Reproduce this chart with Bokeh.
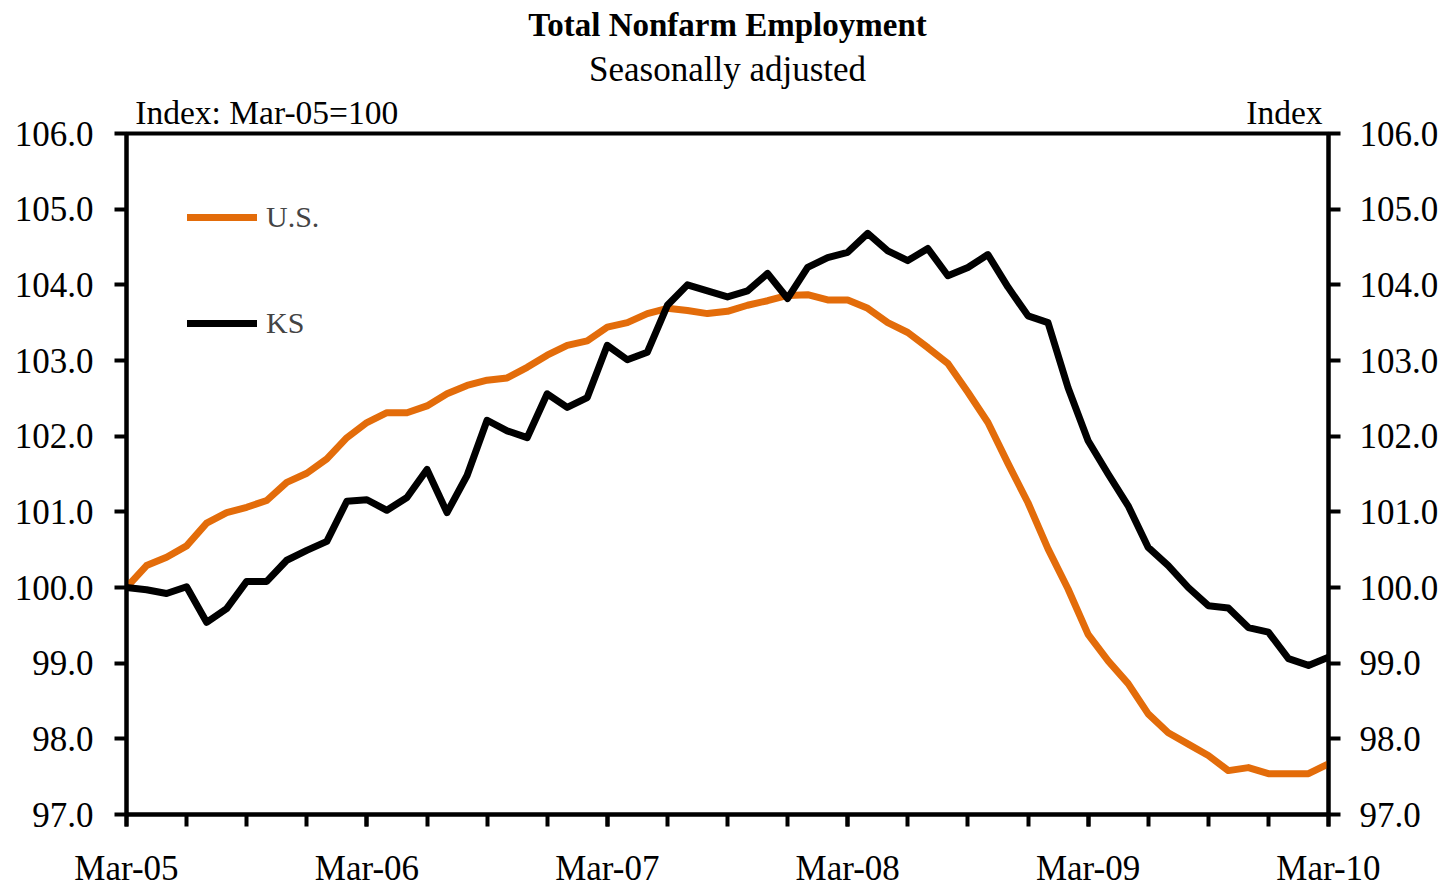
from bokeh.plotting import figure
from bokeh.models import (LinearAxis, FixedTicker, NumeralTickFormatter, Range1d,
                          Legend, LegendItem, Title, ColumnDataSource)
from bokeh.embed import file_html
from bokeh.resources import INLINE

# ---- data (monthly index, Mar-05 = 100) ----
us = [100.0, 100.29, 100.40, 100.55, 100.85, 100.99, 101.06, 101.15, 101.39, 101.51,
      101.70, 101.98, 102.18, 102.31, 102.31, 102.40, 102.56, 102.67, 102.74, 102.77,
      102.91, 103.07, 103.20, 103.26, 103.44, 103.50, 103.62, 103.69, 103.66, 103.62,
      103.65, 103.73, 103.79, 103.86, 103.87, 103.80, 103.80, 103.69, 103.50, 103.37,
      103.17, 102.96, 102.58, 102.18, 101.64, 101.12, 100.51, 99.98, 99.38, 99.03,
      98.73, 98.33, 98.08, 97.93, 97.78, 97.58, 97.62, 97.54, 97.54, 97.54, 97.67]
ks = [100.0, 99.97, 99.92, 100.01, 99.54, 99.72, 100.08, 100.08, 100.36, 100.49,
      100.61, 101.14, 101.16, 101.02, 101.19, 101.56, 100.99, 101.48, 102.21, 102.07,
      101.98, 102.56, 102.38, 102.51, 103.20, 103.01, 103.11, 103.73, 104.00, 103.92,
      103.84, 103.92, 104.15, 103.82, 104.23, 104.36, 104.43, 104.68, 104.45, 104.32,
      104.48, 104.12, 104.23, 104.40, 103.97, 103.59, 103.50, 102.64, 101.94, 101.50,
      101.08, 100.53, 100.29, 100.00, 99.76, 99.73, 99.47, 99.41, 99.06, 98.97, 99.08]
months = list(range(len(us)))
year_labels = ["Mar-05", "Mar-06", "Mar-07", "Mar-08", "Mar-09", "Mar-10"]
year_ticks = [0, 12, 24, 36, 48, 60]
quarter_ticks = list(range(0, 61, 3))
y_ticks = [97, 98, 99, 100, 101, 102, 103, 104, 105, 106]
unit_captions = ["Index: Mar-05=100", "Index"]
caption_pos = [7.0, 57.8]

FONT = "Liberation Serif"
ORANGE = "#E36C0A"

p = figure(frame_width=1202, frame_height=681, output_backend="svg", toolbar_location=None,
           x_range=Range1d(0, 60), y_range=Range1d(97, 106),
           min_border_left=126, min_border_right=112, min_border_top=133, min_border_bottom=70,
           background_fill_color="white", border_fill_color="white")
p.xgrid.visible = False
p.ygrid.visible = False
p.outline_line_color = "black"
p.outline_line_width = 4

src = ColumnDataSource(dict(m=months, us=us, ks=ks))
r_us = p.line("m", "us", source=src, line_color=ORANGE, line_width=7,
              line_join="round", line_cap="round")
r_ks = p.line("m", "ks", source=src, line_color="black", line_width=7,
              line_join="round", line_cap="round")

def style_axis(ax):
    ax.axis_line_width = 4
    ax.axis_line_color = "black"
    ax.major_tick_line_width = 4
    ax.minor_tick_line_width = 4
    ax.major_tick_line_color = "black"
    ax.minor_tick_line_color = "black"
    ax.major_tick_in = 0
    ax.major_tick_out = 12
    ax.minor_tick_in = 0
    ax.minor_tick_out = 12
    ax.major_label_text_font = FONT
    ax.major_label_text_font_size = "35px"
    ax.major_label_text_color = "black"

# x axis
xa = p.xaxis[0]
xa.ticker = FixedTicker(ticks=year_ticks, minor_ticks=quarter_ticks)
xa.major_label_overrides = {t: l for t, l in zip(year_ticks, year_labels)}
style_axis(xa)
xa.major_label_standoff = 22

# left y axis
ya = p.yaxis[0]
ya.ticker = FixedTicker(ticks=y_ticks, minor_ticks=[])
ya.formatter = NumeralTickFormatter(format="0.0")
style_axis(ya)
ya.minor_tick_out = 0
ya.major_label_standoff = 21

# right y axis
yr = LinearAxis(ticker=FixedTicker(ticks=y_ticks, minor_ticks=[]),
                formatter=NumeralTickFormatter(format="0.0"))
style_axis(yr)
yr.minor_tick_out = 0
yr.major_label_standoff = 19
p.add_layout(yr, "right")

# top axis carrying the unit captions
top = LinearAxis(ticker=FixedTicker(ticks=caption_pos, minor_ticks=[]),
                 major_label_overrides={t: l for t, l in zip(caption_pos, unit_captions)})
top.axis_line_color = None
top.major_tick_line_color = None
top.minor_tick_line_color = None
top.major_tick_out = 0
top.major_tick_in = 0
top.major_label_standoff = 3
top.major_label_text_font = FONT
top.major_label_text_font_size = "33.5px"
top.major_label_text_color = "black"
p.add_layout(top, "above")

# subtitle and title
p.add_layout(Title(text="Seasonally adjusted", align="center", text_font=FONT,
                   text_font_size="35px", text_font_style="normal", text_color="black",
                   standoff=3), "above")
p.add_layout(Title(text="Total Nonfarm Employment", align="center", text_font=FONT,
                   text_font_size="33px", text_font_style="bold", text_color="black",
                   standoff=8), "above")

# legend
legend = Legend(items=[LegendItem(label="U.S.", renderers=[r_us]),
                       LegendItem(label="KS", renderers=[r_ks])],
                location=(61, 471), margin=0, padding=0, spacing=66,
                glyph_width=70, glyph_height=40, label_height=40,
                label_standoff=9, label_text_font=FONT, label_text_font_size="30px",
                border_line_alpha=0, background_fill_alpha=0)
p.add_layout(legend)

open("out.html", "w").write(file_html(p, INLINE))
